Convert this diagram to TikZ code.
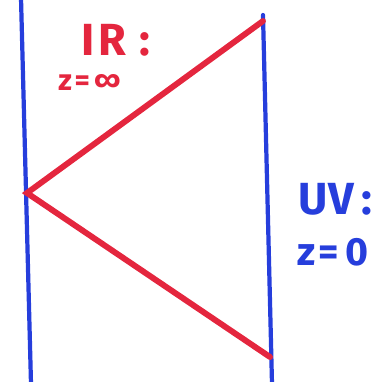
\documentclass[tikz,border=0pt]{standalone}
\usepackage{fontspec}
\setsansfont{Fira Sans}
\definecolor{penred}{RGB}{228,38,62}
\definecolor{penblue}{RGB}{38,62,220}
\tikzset{
  boundary/.style={penblue, line width=3pt, line cap=round},
  ray/.style={penred, line width=4.2pt, line cap=round},
  irlabel/.style={penred, font=\sffamily\bfseries, inner sep=0pt, anchor=west},
  uvlabel/.style={penblue, font=\sffamily\bfseries, inner sep=0pt, anchor=west}
}
\begin{document}
\begin{tikzpicture}[x=0.025cm, y=-0.025cm]
  \useasboundingbox (0,0) rectangle (377,382);
  \clip (0,0) rectangle (377,382);
  \coordinate (ltop) at (21,-2); \coordinate (lbot) at (31,384);
  \coordinate (rtop) at (263,15); \coordinate (rbot) at (272,384);
  \draw[boundary] (ltop) -- (lbot);
  \draw[boundary] (rtop) -- (rbot);
  \coordinate (apex) at (27,193);
  \coordinate (irtop) at (263,21); \coordinate (irbot) at (270,357);
  \draw[ray] (irtop) -- (apex) -- (irbot);
  \node[irlabel, font=\sffamily\bfseries\fontsize{32}{32}\selectfont] (ir) at (81,40) {I\kern3pt R\kern9pt:};
  \node[irlabel, font=\sffamily\bfseries\fontsize{21}{21}\selectfont] (irz) at (58,82) {z\kern2pt=\kern3pt∞};
  \node[uvlabel, font=\sffamily\bfseries\fontsize{32}{32}\selectfont] (uv) at (298,199) {U\kern1pt V\kern5pt:};
  \node[uvlabel, font=\sffamily\bfseries\fontsize{28}{28}\selectfont] (uvz) at (297,252) {z\kern2pt=\kern5pt0};
\end{tikzpicture}
\end{document}
